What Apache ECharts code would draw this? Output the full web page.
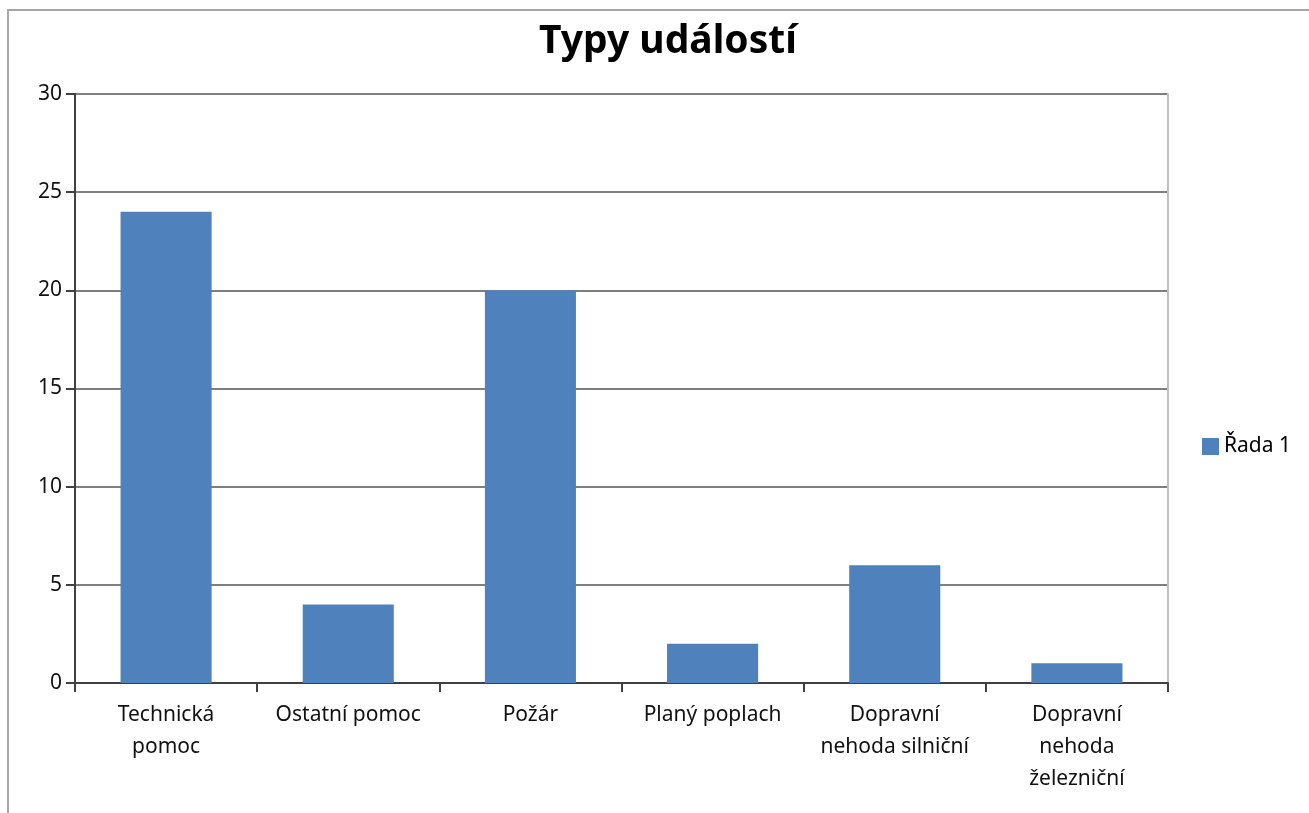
<!DOCTYPE html>
<html>
<head>
<meta charset="utf-8">
<style>
  html, body { margin: 0; padding: 0; background: #fff; }
  #chart { width: 1309px; height: 813px; }
</style>
<script src="https://cdn.jsdelivr.net/npm/echarts@6/dist/echarts.min.js"></script>
</head>
<body>
<div id="chart"></div>
<script>
// category labels keep the line breaks seen in the picture
const categories = ['Technická\npomoc', 'Ostatní pomoc', 'Požár', 'Planý poplach', 'Dopravní\nnehoda silniční', 'Dopravní\nnehoda\nželezniční']
const values = [24, 4, 20, 2, 6, 1]
const seriesName = 'Řada 1'
const chartTitle = 'Typy událostí'

const font = '"Noto Sans", "Open Sans", sans-serif'
const chart = echarts.init(document.getElementById('chart'))

chart.setOption({
  animation: false,
  title: {
    text: chartTitle, left: 663, top: 17, textAlign: 'center',
    textStyle: { fontFamily: font, fontSize: 39, fontWeight: 'bold', color: '#000' }
  },
  legend: {
    left: 1197, top: 431, orient: 'vertical',
    itemWidth: 17, itemHeight: 17, itemGap: 6,
    icon: 'rect',
    textStyle: { fontFamily: font, fontSize: 21, color: '#000' }
  },
  graphic: [{
    type: 'rect', silent: true, z: -1,
    shape: { x: 8, y: 10, width: 1340, height: 840 },
    style: { fill: 'none', stroke: '#a6a6a6', lineWidth: 2 }
  }],
  grid: { left: 75, right: 141, top: 94, bottom: 130 },
  xAxis: {
    type: 'category', data: categories,
    axisLine: { lineStyle: { color: '#404040', width: 2 } },
    axisTick: { show: true, length: 9, lineStyle: { color: '#404040', width: 2 } },
    axisLabel: {
      interval: 0, margin: 16, lineHeight: 32,
      fontFamily: font, fontSize: 21, color: '#111'
    }
  },
  yAxis: [{
    type: 'value', min: 0, max: 30, interval: 5,
    axisLine: { show: true, lineStyle: { color: '#404040', width: 2 } },
    axisTick: { show: true, length: 9, lineStyle: { color: '#404040', width: 2 } },
    splitLine: { lineStyle: { color: '#7f7f7f', width: 2 } },
    axisLabel: { margin: 13, fontFamily: font, fontSize: 21, color: '#111' }
  }, {
    type: 'value', position: 'right', min: 0, max: 30, interval: 5,
    axisLine: { show: true, lineStyle: { color: '#bfbfbf', width: 2 } },
    axisTick: { show: false }, axisLabel: { show: false }, splitLine: { show: false }
  }],
  series: [{
    name: seriesName, type: 'bar', data: values, barWidth: '50%',
    itemStyle: { color: '#4f81bd' }
  }]
})
</script>
</body>
</html>
